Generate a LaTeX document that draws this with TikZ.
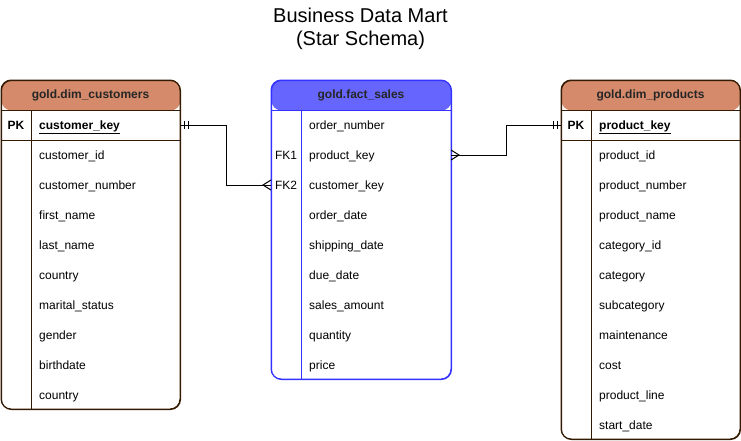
\documentclass[tikz,border=0pt]{standalone}
\usepackage{fontspec}
\setmainfont{Liberation Sans}
\definecolor{dimhead}{RGB}{212,138,107}
\definecolor{dimline}{RGB}{51,26,0}
\definecolor{facthead}{RGB}{102,102,255}
\definecolor{factline}{RGB}{51,51,255}
\begin{document}
\begin{tikzpicture}[x=1pt,y=-1pt,
  tbl/.style={draw=#1, line width=1pt, rounded corners=10pt, anchor=north west, inner sep=0pt, fill=white},
  hdr/.style={font=\fontsize{12}{14}\selectfont\bfseries, text=black!85},
  row/.style={font=\fontsize{12}{14}\selectfont, anchor=base west, inner sep=0pt},
  keycell/.style={font=\fontsize{12}{14}\selectfont, inner sep=0pt, anchor=base},
  conn/.style={line width=1pt, black},
  ttl/.style={font=\fontsize{20}{23}\selectfont, align=center}]
\useasboundingbox (0,0) rectangle (741,440);

\node[ttl] (title) at (360.5,28.5) {Business Data Mart\\(Star Schema)};

% ---------- customers ----------
\node[tbl=dimline, minimum width=179pt, minimum height=329pt,
  path picture={\fill[dimhead] (path picture bounding box.north west) rectangle ([yshift=-30pt]path picture bounding box.north east);}]
  (cust) at (1,80) {};
\draw[dimline, line width=1pt] (1,110) -- (180,110) (1,140) -- (180,140) (31,110) -- (31,409);
\draw[dimline, line width=1pt, rounded corners=10pt] (1,80) rectangle (180,409);
\node[hdr] (custh) at (90.5,95) {gold.dim\_customers};
\node[keycell] (custpk) at (16,129.5) {\bfseries PK};
\node[row] (ckey) at (39,129.5) {\bfseries\underline{customer\_key}};
\foreach \t [count=\i] in {customer\_id, customer\_number, first\_name, last\_name, country, marital\_status, gender, birthdate, country}
  \node[row] (c\i) at (39,129.5+30*\i) {\t};

% ---------- fact ----------
\node[tbl=factline, minimum width=180pt, minimum height=299pt,
  path picture={\fill[facthead] (path picture bounding box.north west) rectangle ([yshift=-30pt]path picture bounding box.north east);}]
  (fact) at (271,80) {};
\draw[factline, line width=1pt] (271,110) -- (451,110) (301,110) -- (301,379);
\draw[factline, line width=1pt, rounded corners=10pt] (271,80) rectangle (451,379);
\node[hdr] (facth) at (361,95) {gold.fact\_sales};
\node[keycell] (fk1) at (286,159.5) {FK1};
\node[keycell] (fk2) at (286,189.5) {FK2};
\foreach \t [count=\i from 0] in {order\_number, product\_key, customer\_key, order\_date, shipping\_date, due\_date, sales\_amount, quantity, price}
  \node[row] (f\i) at (309,129.5+30*\i) {\t};

% ---------- products ----------
\node[tbl=dimline, minimum width=179pt, minimum height=359pt,
  path picture={\fill[dimhead] (path picture bounding box.north west) rectangle ([yshift=-30pt]path picture bounding box.north east);}]
  (prod) at (561,80) {};
\draw[dimline, line width=1pt] (561,110) -- (740,110) (561,140) -- (740,140) (591,110) -- (591,439);
\draw[dimline, line width=1pt, rounded corners=10pt] (561,80) rectangle (740,439);
\node[hdr] (prodh) at (650.5,95) {gold.dim\_products};
\node[keycell] (prodpk) at (576,129.5) {\bfseries PK};
\node[row] (pkey) at (599,129.5) {\bfseries\underline{product\_key}};
\foreach \t [count=\i] in {product\_id, product\_number, product\_name, category\_id, category, subcategory, maintenance, cost, product\_line, start\_date}
  \node[row] (p\i) at (599,129.5+30*\i) {\t};

% ---------- connectors ----------
\coordinate (cA) at (180,125);
\coordinate (cB) at (271,185);
\draw[conn] (cA) -- ++(46,0) |- (cB);
\draw[conn] ([xshift=4pt,yshift=4pt]cA) -- ++(0,8) ([xshift=8pt,yshift=4pt]cA) -- ++(0,8);
\draw[conn] ([yshift=-5pt]cB) -- ([xshift=-8pt]cB) -- ([yshift=5pt]cB);

\coordinate (pA) at (451,155);
\coordinate (pB) at (561,125);
\draw[conn] (pA) -- ++(55,0) |- (pB);
\draw[conn] ([xshift=-4pt,yshift=4pt]pB) -- ++(0,8) ([xshift=-8pt,yshift=4pt]pB) -- ++(0,8);
\draw[conn] ([yshift=-5pt]pA) -- ([xshift=8pt]pA) -- ([yshift=5pt]pA);
\end{tikzpicture}
\end{document}
